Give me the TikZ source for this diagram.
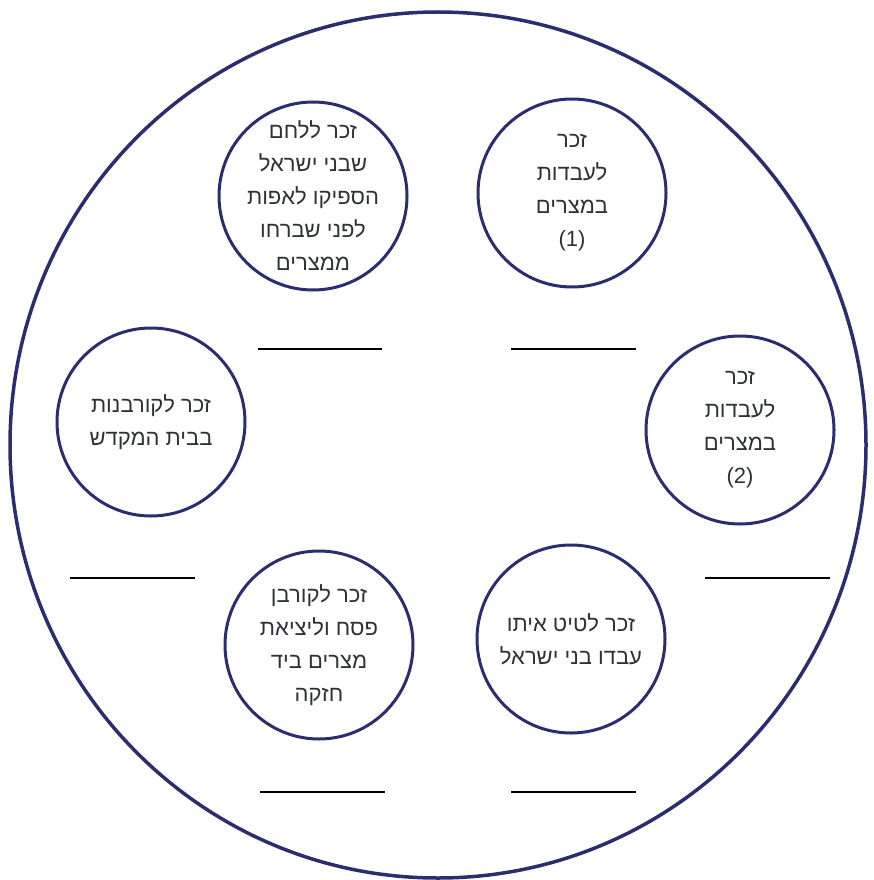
\documentclass[tikz,border=0pt]{standalone}
\usepackage{fontspec}
\usetikzlibrary{shapes.geometric}
\newfontfamily\hebfont[Script=Hebrew]{Liberation Sans}
\TeXXeTstate=1
\definecolor{plate}{HTML}{2B2D6E}
\definecolor{ink}{HTML}{2E3236}
\tikzset{
  dish/.style={circle, draw=plate, line width=3pt, minimum size=188pt, inner sep=0pt},
  dishtext/.style={align=center, text=ink, inner sep=0pt, font=\hebfont\fontsize{22}{33}\selectfont},
  blank/.style={line width=2.5pt, draw=black}
}
\begin{document}
\begin{tikzpicture}[x=1pt,y=-1pt]
\useasboundingbox (0,0) rectangle (874,880);
\node[draw=plate, line width=3.5pt, ellipse, minimum width=856pt, minimum height=866pt, inner sep=0pt] (plate) at (438,445) {};
\node[dish] (c1) at (313,196) {};
\node[dish] (c2) at (572,193) {};
\node[dish] (c3) at (740,430) {};
\node[dish] (c4) at (151,422) {};
\node[dish] (c5) at (319,645) {};
\node[dish] (c6) at (571,639) {};
\node[dishtext] (t1) at (c1.center) {\beginR זכר ללחם\endR\\\beginR שבני ישראל\endR\\\beginR הספיקו לאפות\endR\\\beginR לפני שברחו\endR\\\beginR ממצרים\endR};
\node[dishtext] (t2) at (c2.center) {\beginR זכר\endR\\\beginR לעבדות\endR\\\beginR במצרים\endR\\(1)};
\node[dishtext] (t3) at (c3.center) {\beginR זכר\endR\\\beginR לעבדות\endR\\\beginR במצרים\endR\\(2)};
\node[dishtext] (t4) at (c4.center) {\beginR זכר לקורבנות\endR\\\beginR בבית המקדש\endR};
\node[dishtext] (t5) at (c5.center) {\beginR זכר לקורבן\endR\\\beginR פסח וליציאת\endR\\\beginR מצרים ביד\endR\\\beginR חזקה\endR};
\node[dishtext] (t6) at (c6.center) {\beginR זכר לטיט איתו\endR\\\beginR עבדו בני ישראל\endR};
\coordinate (l1a) at (258,349); \coordinate (l1b) at (382,349);
\coordinate (l2a) at (511,349); \coordinate (l2b) at (636,349);
\coordinate (l3a) at (70,578);  \coordinate (l3b) at (195,578);
\coordinate (l4a) at (705,578); \coordinate (l4b) at (830,578);
\coordinate (l5a) at (260,792); \coordinate (l5b) at (385,792);
\coordinate (l6a) at (511,792); \coordinate (l6b) at (636,792);
\draw[blank] (l1a) -- (l1b);
\draw[blank] (l2a) -- (l2b);
\draw[blank] (l3a) -- (l3b);
\draw[blank] (l4a) -- (l4b);
\draw[blank] (l5a) -- (l5b);
\draw[blank] (l6a) -- (l6b);
\end{tikzpicture}
\end{document}
